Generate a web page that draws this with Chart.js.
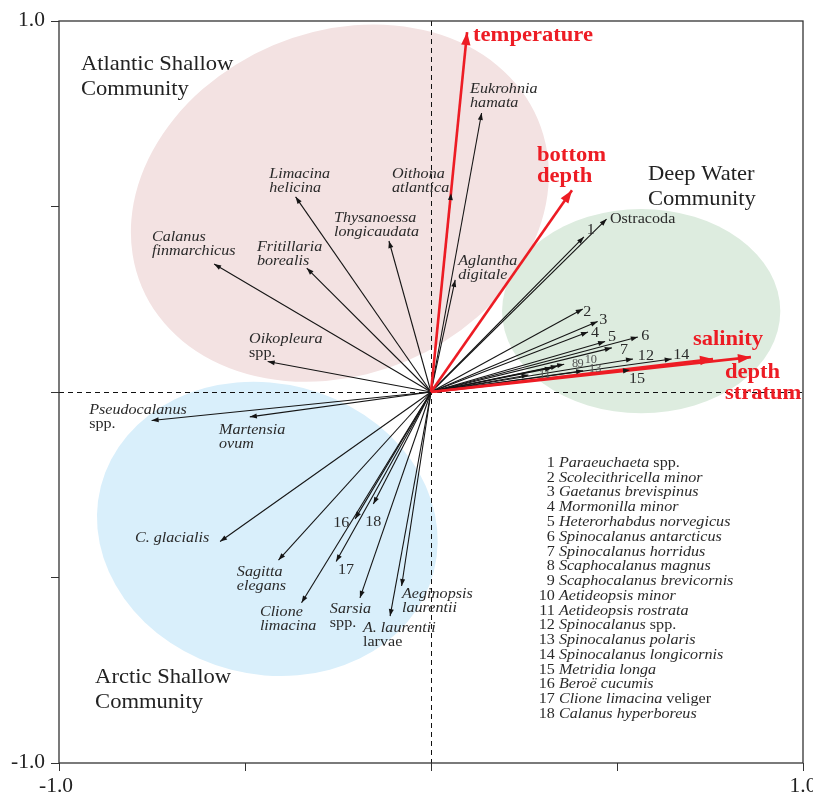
<!DOCTYPE html>
<html>
<head>
<meta charset="utf-8">
<script src="https://cdn.jsdelivr.net/npm/chart.js@4.4.1/dist/chart.umd.min.js"></script>
<style>
  html, body { margin: 0; padding: 0; background: #fff; }
  #wrap { width: 813px; height: 799px; }
</style>
</head>
<body>
<div id="wrap"><canvas id="out"></canvas></div>
<script>
// taxa arrows (RDA biplot), labels at the tips, numbers explained in the list
const taxa = [
  "Calanus\nfinmarchicus", "Fritillaria\nborealis", "Limacina\nhelicina", "Thysanoessa\nlongicaudata",
  "Oithona\natlantica", "Eukrohnia\nhamata", "Aglantha\ndigitale", "Oikopleura\nspp.",
  "Ostracoda", "1", "2", "3", "4", "5", "6", "7", "8", "9", "10", "11", "12", "13", "14", "15",
  "16", "17", "18",
  "Pseudocalanus\nspp.", "Martensia\novum", "C. glacialis", "Sagitta\nelegans", "Clione\nlimacina",
  "Sarsia\nspp.", "A. laurentii\nlarvae", "Aeginopsis\nlaurentii"
];
const taxaX = [
  -0.583, -0.334, -0.364, -0.113, 0.054, 0.136, 0.065, -0.439,
  0.472, 0.411, 0.408, 0.448, 0.422, 0.468, 0.556, 0.486, 0.325, 0.341, 0.358, 0.262, 0.543, 0.409, 0.647, 0.535,
  -0.204, -0.255, -0.155,
  -0.751, -0.487, -0.567, -0.410, -0.348, -0.191, -0.110, -0.079
];
const taxaY = [
  0.345, 0.334, 0.526, 0.407, 0.536, 0.752, 0.302, 0.082,
  0.466, 0.418, 0.224, 0.190, 0.162, 0.136, 0.148, 0.119, 0.065, 0.070, 0.075, 0.046, 0.089, 0.057, 0.089, 0.059,
  -0.342, -0.457, -0.302,
  -0.077, -0.067, -0.403, -0.453, -0.568, -0.555, -0.604, -0.523
];

// environmental variables
const envNames = ["temperature", "bottom\ndepth", "salinity", "depth\nstratum"];
const envX = [0.097, 0.379, 0.758, 0.860];
const envY = [0.970, 0.544, 0.089, 0.094];

// numbered taxa
const listNames = [
  "Paraeuchaeta spp.", "Scolecithricella minor", "Gaetanus brevispinus", "Mormonilla minor",
  "Heterorhabdus norvegicus", "Spinocalanus antarcticus", "Spinocalanus horridus", "Scaphocalanus magnus",
  "Scaphocalanus brevicornis", "Aetideopsis minor", "Aetideopsis rostrata", "Spinocalanus spp.",
  "Spinocalanus polaris", "Spinocalanus longicornis", "Metridia longa", "Beroë cucumis",
  "Clione limacina veliger", "Calanus hyperboreus"
];

const communityNames = ["Atlantic Shallow\nCommunity", "Deep Water\nCommunity", "Arctic Shallow\nCommunity"];
const axisTicks = [-1, -0.5, 0, 0.5, 1];
const axisTickLabels = ["-1.0", "1.0"];

// ---- layout (label anchors in axis units) ----
const taxaLabelAt = [
  [-0.750, 0.407], [-0.468, 0.380], [-0.435, 0.577], [-0.261, 0.458],
  [-0.105, 0.577], [0.105, 0.806], [0.073, 0.342], [-0.489, 0.132],
  [0.481, 0.456], [0.419, 0.426], [0.409, 0.205], [0.452, 0.183], [0.430, 0.148], [0.476, 0.137],
  [0.565, 0.140], [0.508, 0.102], [0.379, 0.067], [0.394, 0.067], [0.413, 0.078], [0.290, 0.038],
  [0.556, 0.086], [0.425, 0.054], [0.651, 0.089], [0.532, 0.024],
  [-0.263, -0.364], [-0.250, -0.491], [-0.177, -0.361],
  [-0.919, -0.059], [-0.570, -0.113], [-0.796, -0.404], [-0.522, -0.496], [-0.460, -0.604],
  [-0.272, -0.596], [-0.183, -0.647], [-0.078, -0.555]
];
const envLabelAt = [[0.113, 0.946], [0.285, 0.623], [0.704, 0.127], [0.790, 0.038]];
const communityLabelAt = [[-0.941, 0.868], [0.583, 0.571], [-0.903, -0.784]];
const communityShapes = [
  { cx: -0.245, cy: 0.509, rx: 0.578, ry: 0.462, rot: -0.40, fill: "rgb(243,226,226)" },
  { cx: 0.565, cy: 0.218, rx: 0.374, ry: 0.275, rot: 0, fill: "rgb(221,236,223)" },
  { cx: -0.440, cy: -0.369, rx: 0.462, ry: 0.392, rot: 0.25, fill: "rgb(217,239,251)" }
];
const listAt = [0.333, -0.202];

const RED = "#ed1c24";
const INK = "#2a2a2a";
const SERIF = '"Liberation Serif", "Times New Roman", serif';
const SX = 1.075; // the figure's type is a little wide
const upright = new Set(["spp.", "larvae", "veliger", "Ostracoda"]);
const smallNums = new Set(["8", "9", "10", "11", "13"]);

function isUpright(w) {
  return upright.has(w) || /^\d+$/.test(w);
}

// text drawn slightly stretched horizontally, returns its width
function txt(ctx, s, x, y) {
  ctx.save();
  ctx.translate(x, y);
  ctx.scale(SX, 1);
  ctx.fillText(s, 0, 0);
  ctx.restore();
  return ctx.measureText(s).width * SX;
}

// draws a line word by word, italic except for the upright words
function richLine(ctx, text, x, y, size) {
  const words = text.split(" ");
  let cx = x;
  words.forEach((w, i) => {
    ctx.font = (isUpright(w) ? "" : "italic ") + size + "px " + SERIF;
    cx += txt(ctx, w, cx, y);
    if (i < words.length - 1) cx += ctx.measureText(" ").width * SX;
  });
}

const O = { x: 0, y: 0 };
const datasets = [];
taxa.forEach((t, i) => {
  datasets.push({
    label: t,
    data: [O, { x: taxaX[i], y: taxaY[i] }],
    showLine: true,
    borderColor: "#151515",
    borderWidth: 1.1,
    pointRadius: 0,
    order: 1,
    head: 7
  });
});
envNames.forEach((t, i) => {
  datasets.push({
    label: t,
    data: [O, { x: envX[i], y: envY[i] }],
    showLine: true,
    borderColor: RED,
    borderWidth: 2.6,
    pointRadius: 0,
    order: 0,
    head: 13
  });
});

const decor = {
  id: "decor",
  beforeDatasetsDraw(chart) {
    const { ctx, chartArea: a, scales: { x, y } } = chart;
    const kx = x.getPixelForValue(1) - x.getPixelForValue(0);
    const ky = y.getPixelForValue(0) - y.getPixelForValue(1);
    ctx.save();
    ctx.beginPath();
    ctx.rect(a.left, a.top, a.width, a.height);
    ctx.clip();
    communityShapes.forEach(c => {
      ctx.fillStyle = c.fill;
      ctx.beginPath();
      ctx.ellipse(x.getPixelForValue(c.cx), y.getPixelForValue(c.cy), c.rx * kx, c.ry * ky, c.rot, 0, Math.PI * 2);
      ctx.fill();
    });
    // dashed zero lines
    ctx.strokeStyle = "#111";
    ctx.lineWidth = 1;
    ctx.setLineDash([5, 4]);
    const x0 = Math.round(x.getPixelForValue(0)) + 0.5;
    const y0 = Math.round(y.getPixelForValue(0)) + 0.5;
    ctx.beginPath();
    ctx.moveTo(x0, a.top); ctx.lineTo(x0, a.bottom);
    ctx.moveTo(a.left, y0); ctx.lineTo(a.right, y0);
    ctx.stroke();
    ctx.restore();
  },
  afterDatasetsDraw(chart) {
    const { ctx, chartArea: a, scales: { x, y } } = chart;
    ctx.save();

    // arrow heads, black first then red
    const metas = chart.data.datasets.map((d, i) => [d, chart.getDatasetMeta(i)]);
    metas.sort((p, q) => q[0].order - p[0].order);
    metas.forEach(([d, m]) => {
      const p0 = m.data[0], p1 = m.data[1];
      const ang = Math.atan2(p1.y - p0.y, p1.x - p0.x);
      const L = d.head, W = d.head * 0.36;
      ctx.fillStyle = d.borderColor;
      ctx.beginPath();
      ctx.moveTo(p1.x, p1.y);
      ctx.lineTo(p1.x - L * Math.cos(ang) + W * Math.sin(ang), p1.y - L * Math.sin(ang) - W * Math.cos(ang));
      ctx.lineTo(p1.x - L * Math.cos(ang) - W * Math.sin(ang), p1.y - L * Math.sin(ang) + W * Math.cos(ang));
      ctx.closePath();
      ctx.fill();
    });

    ctx.textBaseline = "alphabetic";
    ctx.textAlign = "left";

    // taxa labels
    taxa.forEach((t, i) => {
      const px = x.getPixelForValue(taxaLabelAt[i][0]);
      const py = y.getPixelForValue(taxaLabelAt[i][1]);
      if (smallNums.has(t)) {
        ctx.fillStyle = "#555";
        richLine(ctx, t, px, py, 11.5);
        return;
      }
      ctx.fillStyle = INK;
      t.split("\n").forEach((line, j) => richLine(ctx, line, px, py + j * 14, 15));
    });

    // environmental labels
    ctx.fillStyle = RED;
    ctx.font = "bold 21px " + SERIF;
    envNames.forEach((t, i) => {
      const px = x.getPixelForValue(envLabelAt[i][0]);
      const py = y.getPixelForValue(envLabelAt[i][1]);
      t.split("\n").forEach((line, j) => txt(ctx, line, px, py + j * 21));
    });

    // community labels
    ctx.fillStyle = "#222";
    ctx.font = "21px " + SERIF;
    communityNames.forEach((t, i) => {
      const px = x.getPixelForValue(communityLabelAt[i][0]);
      const py = y.getPixelForValue(communityLabelAt[i][1]);
      t.split("\n").forEach((line, j) => txt(ctx, line, px, py + j * 25));
    });

    // numbered list
    const lx = x.getPixelForValue(listAt[0]);
    const ly = y.getPixelForValue(listAt[1]);
    ctx.fillStyle = INK;
    listNames.forEach((n, i) => {
      const yy = ly + i * 14.76;
      ctx.font = "15px " + SERIF;
      ctx.textAlign = "right";
      txt(ctx, String(i + 1), lx, yy);
      ctx.textAlign = "left";
      richLine(ctx, n, lx + 4, yy, 15);
    });

    // frame
    ctx.strokeStyle = "#333";
    ctx.lineWidth = 1.3;
    ctx.setLineDash([]);
    ctx.strokeRect(a.left, a.top, a.width, a.height);

    // end tick labels
    ctx.fillStyle = "#222";
    ctx.font = "20px " + SERIF;
    ctx.textBaseline = "middle";
    ctx.textAlign = "right";
    txt(ctx, axisTickLabels[1], a.left - 14, y.getPixelForValue(1));
    txt(ctx, axisTickLabels[0], a.left - 14, y.getPixelForValue(-1));
    ctx.textAlign = "center";
    txt(ctx, axisTickLabels[0], x.getPixelForValue(-1) - 3, a.bottom + 24);
    txt(ctx, axisTickLabels[1], x.getPixelForValue(1), a.bottom + 24);
    ctx.restore();
  }
};

const axisOpts = (fitKey, fitVal) => ({
  type: "linear",
  min: -1,
  max: 1,
  afterBuildTicks: s => { s.ticks = axisTicks.map(v => ({ value: v })); },
  ticks: { display: false },
  grid: { drawOnChartArea: false, drawTicks: true, tickLength: 8, color: "#333", lineWidth: 1 },
  border: { display: false },
  afterFit: s => { s[fitKey] = fitVal; }
});

new Chart(document.getElementById("out").getContext("2d"), {
  type: "scatter",
  data: { datasets },
  options: {
    responsive: true,
    maintainAspectRatio: false,
    animation: false,
    events: [],
    layout: { padding: { left: 0, top: 21, right: 10, bottom: 0 } },
    plugins: { legend: { display: false }, tooltip: { enabled: false } },
    scales: {
      x: axisOpts("height", 36),
      y: axisOpts("width", 59)
    }
  },
  plugins: [decor]
});
</script>
</body>
</html>
